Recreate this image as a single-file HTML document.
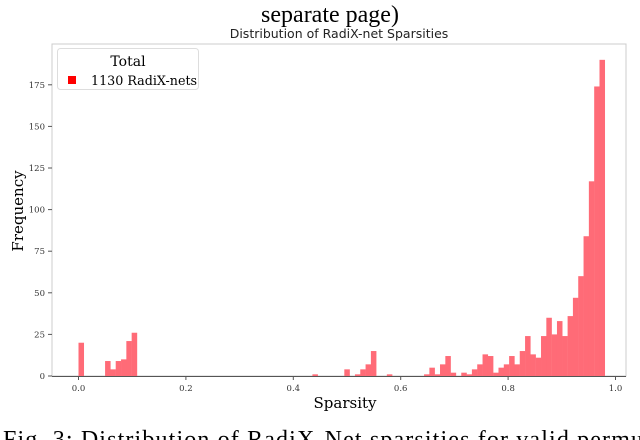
<!DOCTYPE html>
<html><head><meta charset="utf-8"><style>
body{margin:0;background:#fff;width:640px;height:440px;overflow:hidden;}
svg{display:block}
</style></head><body>
<svg id="chart" width="640" height="440" xmlns="http://www.w3.org/2000/svg">
<text x="330" y="22" text-anchor="middle" font-family="Liberation Serif, serif" font-size="24">separate page)</text>
<text x="339" y="38" text-anchor="middle" font-family="DejaVu Sans, sans-serif" font-size="12.5" fill="#222">Distribution of RadiX-net Sparsities</text>
<rect x="52" y="44" width="574" height="332" fill="none" stroke="#ccc" stroke-width="1"/>
<g id="bars"></g>
<g id="axes"></g>
<text x="23" y="211" text-anchor="middle" transform="rotate(-90 23 211)" font-family="DejaVu Serif, serif" font-size="15">Frequency</text>
<text x="345" y="408" text-anchor="middle" font-family="DejaVu Serif, serif" font-size="15">Sparsity</text>
<g>
<rect x="57.5" y="48.5" width="141" height="41" rx="3" fill="#fff" stroke="#ddd"/>
<text x="128" y="66" text-anchor="middle" font-family="DejaVu Serif, serif" font-size="14">Total</text>
<rect x="68" y="76" width="8" height="8" fill="#ff0000"/>
<text x="91" y="85" font-family="DejaVu Serif, serif" font-size="12.7">1130 RadiX-nets</text>
</g>
<text x="3" y="447" font-family="Liberation Serif, serif" font-size="24" textLength="640" lengthAdjust="spacing">Fig. 3: Distribution of RadiX-Net sparsities for valid permu</text>
</svg>
<script>
const binStarts = [0,5,6,7,8,9,10,44,50,52,53,54,55,58,65,66,67,68,69,70,72,73,74,75,76,77,78,79,80,81,82,83,84,85,86,87,88,89,90,91,92,93,94,95,96,97,98];
const counts =    [20,9,4,9,10,21,26,1,4,1,4,7,15,1,1,5,1,7,12,2,2,1,4,7,13,12,2,5,7,12,7,15,24,13,11,24,35,25,33,24,36,47,60,84,117,174,190];
const xTicks = [0,0.2,0.4,0.6,0.8,1.0];
const xTickLabels = ["0.0","0.2","0.4","0.6","0.8","1.0"];
const yTicks = [0,25,50,75,100,125,150,175];
const binWidth = 0.0099;
const NS="http://www.w3.org/2000/svg";
function xs(v){return 78.5+v*537;}
function ys(v){return 376-v*(41.6/25);}
const bars=document.getElementById('bars'), axes=document.getElementById('axes');
binStarts.forEach((b,i)=>{
  const r=document.createElementNS(NS,'rect');
  const x0=xs(b*binWidth), x1=xs((b+1)*binWidth);
  r.setAttribute('x',x0);r.setAttribute('width',x1-x0+0.2);
  r.setAttribute('y',ys(counts[i]));r.setAttribute('height',ys(0)-ys(counts[i]));
  r.setAttribute('fill','#ff6b77');
  
  
  bars.appendChild(r);
});
const axl=document.createElementNS(NS,'line');
axl.setAttribute('x1',52);axl.setAttribute('x2',626);axl.setAttribute('y1',376.5);axl.setAttribute('y2',376.5);axl.setAttribute('stroke','#555');


axes.appendChild(axl);
xTicks.forEach((t,i)=>{
  const l=document.createElementNS(NS,'line');
  l.setAttribute('x1',xs(t));l.setAttribute('x2',xs(t));l.setAttribute('y1',376);l.setAttribute('y2',380);l.setAttribute('stroke','#555');
  
  
  axes.appendChild(l);
  const tx=document.createElementNS(NS,'text');
  tx.setAttribute('x',xs(t));tx.setAttribute('y',391);tx.setAttribute('text-anchor','middle');
  tx.setAttribute('font-family','DejaVu Serif, serif');tx.setAttribute('font-size','8.5');tx.setAttribute('fill','#333');
  tx.textContent=xTickLabels[i];
  
  
  axes.appendChild(tx);
});
yTicks.forEach(t=>{
  const l=document.createElementNS(NS,'line');
  l.setAttribute('x1',48);l.setAttribute('x2',52);l.setAttribute('y1',ys(t));l.setAttribute('y2',ys(t));l.setAttribute('stroke','#555');
  
  
  axes.appendChild(l);
  const tx=document.createElementNS(NS,'text');
  tx.setAttribute('x',45);tx.setAttribute('y',ys(t)+3);tx.setAttribute('text-anchor','end');
  tx.setAttribute('font-family','DejaVu Serif, serif');tx.setAttribute('font-size','8.5');tx.setAttribute('fill','#333');
  tx.textContent=String(t);
  
  
  axes.appendChild(tx);
});
</script>
</body></html>
